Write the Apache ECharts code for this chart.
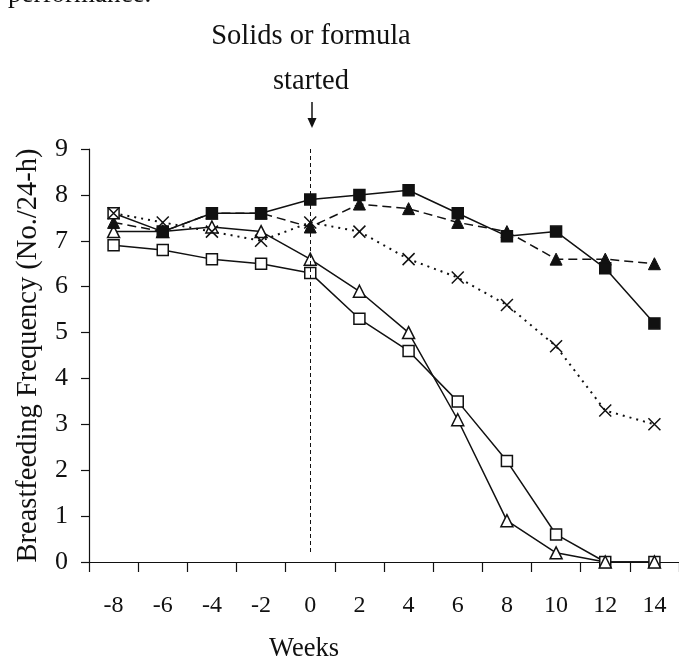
<!DOCTYPE html>
<html>
<head>
<meta charset="utf-8">
<title>Breastfeeding Frequency</title>
<script src="https://cdn.jsdelivr.net/npm/echarts@6/dist/echarts.min.js"></script>
<style>
  html, body { margin: 0; padding: 0; background: #fff; }
  #chart { width: 679px; height: 659px; }
</style>
</head>
<body>
<div id="chart"></div>
<script>
var weeks = ['-8', '-6', '-4', '-2', '0', '2', '4', '6', '8', '10', '12', '14'];

// series values (feeds per 24 h)
var filledSquare   = [7.6, 7.2, 7.6, 7.6, 7.9, 8.0, 8.1, 7.6, 7.1, 7.2, 6.4, 5.2];
var filledTriangle = [7.4, 7.2, 7.6, 7.6, 7.3, 7.8, 7.7, 7.4, 7.2, 6.6, 6.6, 6.5];
var crossed        = [7.6, 7.4, 7.2, 7.0, 7.4, 7.2, 6.6, 6.2, 5.6, 4.7, 3.3, 3.0];
var openTriangle   = [7.2, 7.2, 7.3, 7.2, 6.6, 5.9, 5.0, 3.1, 0.9, 0.2, 0, 0];
var openSquare     = [6.9, 6.8, 6.6, 6.5, 6.3, 5.3, 4.6, 3.5, 2.2, 0.6, 0, 0];

var yTicks = [0, 1, 2, 3, 4, 5, 6, 7, 8, 9];

var serif = '"Liberation Serif", "DejaVu Serif", serif';
var ink = '#111';

var chart = echarts.init(document.getElementById('chart'));

// the first filled square sits under an x and prints hollow
var fsData = filledSquare.map(function (v, i) {
    if (i === 0) return { value: v, itemStyle: { color: '#fff' } };
    return v;
});

chart.setOption({
    animation: false,
    backgroundColor: '#fff',
    grid: { left: 89, right: -5, top: 149, bottom: 97 },
    xAxis: {
        type: 'category',
        data: weeks,
        boundaryGap: true,
        axisLine: { lineStyle: { color: ink, width: 1.2 } },
        axisTick: { show: true, alignWithLabel: false, length: 10, lineStyle: { color: ink, width: 1.2 } },
        axisLabel: { fontFamily: serif, fontSize: 24, color: ink, margin: 32 },
        splitLine: { show: false }
    },
    yAxis: {
        type: 'value',
        min: yTicks[0],
        max: yTicks[yTicks.length - 1],
        interval: 1,
        name: 'Breastfeeding Frequency (No./24-h)',
        nameLocation: 'middle',
        nameGap: 46,
        nameTextStyle: { fontFamily: serif, fontSize: 28.5, color: ink },
        axisLine: { show: true, lineStyle: { color: ink, width: 1.2 } },
        axisTick: { show: true, length: 8, lineStyle: { color: ink, width: 1.2 } },
        axisLabel: { fontFamily: serif, fontSize: 26, color: ink, margin: 21 },
        splitLine: { show: false }
    },
    series: [
        {
            name: 'open square',
            type: 'line',
            data: openSquare,
            symbol: 'rect',
            symbolSize: 11,
            lineStyle: { color: ink, width: 1.5 },
            itemStyle: { color: '#fff', borderColor: ink, borderWidth: 1.5 },
            markLine: {
                silent: true,
                symbol: ['none', 'none'],
                label: { show: false },
                lineStyle: { color: ink, type: [4, 3], width: 1 },
                data: [[{ coord: ['0', 9] }, { coord: ['0', 0.2] }]]
            }
        },
        {
            name: 'open triangle',
            type: 'line',
            data: openTriangle,
            symbol: 'triangle',
            symbolSize: 12,
            lineStyle: { color: ink, width: 1.5 },
            itemStyle: { color: '#fff', borderColor: ink, borderWidth: 1.5 }
        },
        {
            name: 'filled triangle',
            type: 'line',
            data: filledTriangle,
            symbol: 'triangle',
            symbolSize: 12,
            lineStyle: { color: ink, width: 1.5, type: [9, 5] },
            itemStyle: { color: ink, borderColor: ink, borderWidth: 1 }
        },
        {
            name: 'filled square',
            type: 'line',
            data: fsData,
            symbol: 'rect',
            symbolSize: 11,
            lineStyle: { color: ink, width: 1.5 },
            itemStyle: { color: ink, borderColor: ink, borderWidth: 1.5 }
        },
        {
            name: 'cross',
            type: 'line',
            data: crossed,
            symbol: 'path://M0,0L10,10M10,0L0,10',
            symbolSize: 12,
            lineStyle: { color: ink, width: 2, type: [2, 5] },
            itemStyle: { color: 'none', borderColor: ink, borderWidth: 1.5 }
        }
    ],
    graphic: [
        {
            type: 'text',
            left: 8, top: -19,
            style: { text: 'performance.', fontFamily: serif, fontSize: 27, fill: ink }
        },
        {
            type: 'text',
            x: 311, y: 37,
            style: { text: 'Solids or formula', fontFamily: serif, fontSize: 28.5, fill: ink, align: 'center', verticalAlign: 'middle' }
        },
        {
            type: 'text',
            x: 311, y: 82,
            style: { text: 'started', fontFamily: serif, fontSize: 28.5, fill: ink, align: 'center', verticalAlign: 'middle' }
        },
        {
            type: 'text',
            x: 304, y: 649,
            style: { text: 'Weeks', fontFamily: serif, fontSize: 26.5, fill: ink, align: 'center', verticalAlign: 'middle' }
        },
        {
            type: 'line',
            shape: { x1: 312, y1: 102, x2: 312, y2: 120 },
            style: { stroke: ink, lineWidth: 1.5 }
        },
        {
            type: 'polygon',
            shape: { points: [[307.5, 118], [316.5, 118], [312, 128]] },
            style: { fill: ink }
        }
    ]
});
</script>
</body>
</html>
